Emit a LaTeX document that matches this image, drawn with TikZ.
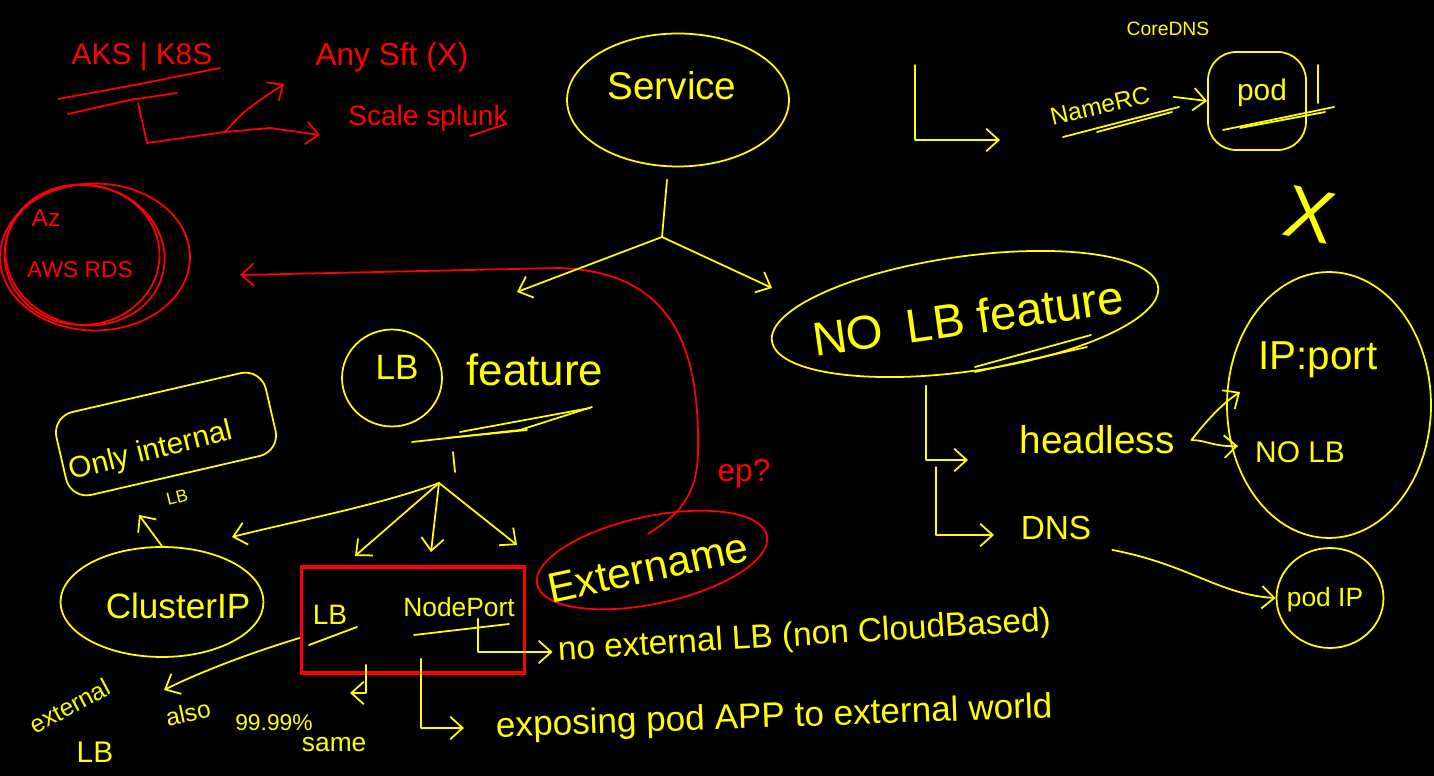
\documentclass[tikz,border=0pt]{standalone}
\usepackage{fontspec}
\setmainfont{Liberation Sans}
\usepackage{xcolor}
\usepackage{tikz}
\usetikzlibrary{shapes.geometric, arrows.meta, positioning}
\definecolor{pen}{RGB}{255,255,0}
\definecolor{redpen}{RGB}{255,0,0}
\tikzset{
    hand/.style={text=pen, inner sep=1pt},
    redhand/.style={text=redpen, inner sep=1pt},
    fs/.style={font=\fontsize{#1}{#1}\selectfont},
    blob/.style={ellipse, draw=pen, line width=1pt, inner sep=0pt},
    redblob/.style={ellipse, draw=redpen, line width=1pt, inner sep=0pt},
    stroke/.style={draw=pen, line width=1pt, line cap=round, line join=round},
    redstroke/.style={draw=redpen, line width=1pt, line cap=round, line join=round},
    arrow/.style={-{Straight Barb[length=2.5mm, width=4.5mm]}},
}

\begin{document}
\begin{tikzpicture}[x=0.02cm, y=-0.02cm]
    \fill[black] (0,0) rectangle (1434,776);
    \useasboundingbox (0,0) rectangle (1434,776);

    % Nodes (red corner)
    \node[redhand, fs=17] (aks) at (142,57) {AKS | K8S};
    \node[redhand, fs=18] (anysoft) at (392,57) {Any Sft (X)};
    \node[redhand, fs=16] (splunk) at (428,118) {Scale splunk};
    \node[redblob, minimum width=3.1cm, minimum height=2.8cm] (rds) at (82,255) {};
    \node[redhand, fs=14] (az) at (46,218) {Az};
    \node[redhand, fs=13] (awsrds) at (80,270) {AWS RDS};
    \node[redhand, fs=18] (ep) at (744,474) {ep?};

    % Nodes (service, LB side)
    \node[blob, minimum width=4.44cm, minimum height=2.66cm] (service) at (678,100) {};
    \node[hand, fs=22] (servicetxt) at (672,86) {Service};
    \node[blob, minimum width=2cm, minimum height=1.94cm] (lb) at (392,378) {};
    \node[hand, fs=20] (lbtxt) at (397,367) {LB};
    \node[hand, fs=25] (feature) at (535,370) {feature};
    \node[draw=pen, line width=1pt, rounded corners=12pt, rotate=13, minimum width=4.3cm, minimum height=1.7cm] (onlyint) at (166,434) {};
    \node[hand, fs=17, rotate=14] (onlyinttxt) at (151,452) {Only internal};
    \node[hand, fs=10, rotate=14] (lbnote) at (177,497) {LB};
    \node[blob, minimum width=4.06cm, minimum height=2.2cm] (clusterip) at (162,602) {};
    \node[hand, fs=20] (clusteriptxt) at (178,606) {ClusterIP};
    \node[draw=redpen, line width=2.2pt, minimum width=4.46cm, minimum height=2.12cm] (lbbox) at (413,620) {};
    \node[hand, fs=16] (boxlb) at (330,615) {LB};
    \node[hand, fs=15] (nodeport) at (459,607) {NodePort};
    \node[redblob, rotate=12, minimum width=4.7cm, minimum height=1.75cm] (extername) at (652,560) {};
    \node[hand, fs=24, rotate=12] (externametxt) at (648,568) {Extername};
    \node[hand, fs=19, rotate=3.5, anchor=west] (noext) at (556,652) {no external LB (non CloudBased)};
    \node[hand, fs=20, rotate=2, anchor=west] (expose) at (494,728) {exposing pod APP to external world};
    \node[hand, fs=14, rotate=28] (external) at (70,706) {external};
    \node[hand, fs=17] (extlb) at (95,752) {LB};
    \node[hand, fs=14, rotate=12] (also) at (188,713) {also};
    \node[hand, fs=13] (pct) at (274,723) {99.99\%};
    \node[hand, fs=15, below right=1pt and -0.3cm of pct] (same) {same};

    % Nodes (no LB side)
    \node[hand, fs=11] (coredns) at (1168,29) {CoreDNS};
    \node[hand, fs=14, rotate=13] (namerc) at (1100,106) {NameRC};
    \node[draw=pen, line width=1pt, rounded corners=16pt, minimum width=1.96cm, minimum height=1.96cm] (pod) at (1257,101) {};
    \node[hand, fs=17] (podtxt) at (1262,93) {pod};
    \node[hand, fs=42, rotate=-12] (cross) at (1310,215) {X};
    \node[blob, rotate=8, minimum width=7.8cm, minimum height=2.3cm] (nolb) at (965,314) {};
    \node[hand, fs=27, rotate=8] (nolbtxt) at (968,318) {NO\hspace{0.5em}LB feature};
    \node[hand, fs=22] (headless) at (1097,440) {headless};
    \node[blob, minimum width=4.08cm, minimum height=5.32cm] (headbag) at (1329,405) {};
    \node[hand, fs=23] (ipport) at (1318,360) {IP:port};
    \node[hand, fs=17] (nolbleaf) at (1300,452) {NO LB};
    \node[hand, fs=19] (dns) at (1056,528) {DNS};
    \node[blob, minimum width=2.14cm, minimum height=2cm] (podip) at (1330,598) {};
    \node[hand, fs=15] (podiptxt) at (1325,600) {pod IP};

    % Underlines and extra strokes
    \draw[redstroke] (58,99) -- (140,84) -- (220,68);
    \draw[redstroke] (68,114) -- (130,100) -- (177,93);
    \draw[redstroke] (470,136) -- (506,124);
    \draw[redstroke] (95,257) ellipse (1.9cm and 1.47cm);
    \draw[redstroke, rotate around={-12:(85,255)}] (85,255) ellipse (1.6cm and 1.4cm);
    \draw[stroke] (412,442) -- (520,430) -- (592,407);
    \draw[stroke] (460,432) -- (590,408);
    \draw[stroke] (447,438) -- (527,430);
    \draw[stroke] (309,645) -- (357,627);
    \draw[stroke] (414,635) -- (509,624);
    \draw[stroke] (1063,137) -- (1179,107);
    \draw[stroke] (1097,132) -- (1172,112);
    \draw[stroke] (1223,130) -- (1334,107);
    \draw[stroke] (1240,128) -- (1325,112);
    \draw[stroke] (1318,65) -- (1318,103);
    \draw[stroke] (975,367) -- (1091,335);
    \draw[stroke] (975,372) -- (1087,347);

    % Arrows (red)
    \coordinate (aksroot) at (138,103);
    \coordinate (aksfork) at (225,132);
    \coordinate (softtip) at (284,84);
    \coordinate (splunktip) at (320,135);
    \coordinate (extstart) at (648,534);
    \coordinate (rdstip) at (240,275);
    \draw[redstroke] (aksroot) -- (147,143) -- (aksfork);
    \draw[redstroke, arrow] (aksfork) .. controls (245,110) .. (softtip);
    \draw[redstroke, arrow] (aksfork) -- (270,128) -- (splunktip);
    \draw[redstroke, arrow] (extstart) .. controls (668,520) and (698,505) .. (698,450) .. controls (700,330) and (660,272) .. (560,268) -- (rdstip);

    % Arrows (service)
    \coordinate (svcfork) at (662,237);
    \coordinate (lbtip) at (517,292);
    \coordinate (nolbtip) at (772,288);
    \draw[stroke] ([xshift=-0.22cm, yshift=-0.25cm]service.south) -- (svcfork);
    \draw[stroke, arrow] (svcfork) -- (lbtip);
    \draw[stroke, arrow] (svcfork) -- (nolbtip);

    % Arrows (LB feature)
    \coordinate (lbtick) at (453,452);
    \coordinate (lbfork) at (439,483);
    \coordinate (cliptip) at (232,537);
    \coordinate (boxtip) at (355,556);
    \coordinate (nptip) at (431,552);
    \coordinate (exttip) at (517,545);
    \coordinate (onlytip) at (139,515);
    \coordinate (alsotip) at (164,690);
    \coordinate (pcttip) at (350,693);
    \draw[stroke] (lbtick) -- ++(2,20);
    \draw[stroke, arrow] (lbfork) .. controls (380,505) and (300,520) .. (cliptip);
    \draw[stroke, arrow] (lbfork) -- (boxtip);
    \draw[stroke, arrow] (lbfork) -- (nptip);
    \draw[stroke, arrow] (lbfork) -- (exttip);
    \draw[stroke, arrow] (clusterip.north) -- (onlytip);
    \draw[stroke, arrow] ([yshift=-0.36cm]lbbox.west) .. controls (250,653) and (200,672) .. (alsotip);
    \draw[stroke, arrow] ([xshift=-0.94cm, yshift=0.2cm]lbbox.south) |- (pcttip);
    \draw[stroke, arrow, shorten >=2pt] ([xshift=0.38cm]nodeport.south) |- (noext.west);
    \draw[stroke, arrow, shorten >=0.6cm] ([xshift=-0.76cm, yshift=-0.8cm]nodeport.south) |- (expose.west);

    % Arrows (no LB)
    \coordinate (bracketroot) at (915,65);
    \coordinate (bracketip) at (1000,140);
    \coordinate (headtip) at (968,460);
    \coordinate (dnsroot) at (936,467);
    \coordinate (dnstip) at (994,535);
    \coordinate (iptip) at (1240,392);
    \coordinate (noleaftip) at (1238,446);
    \draw[stroke, arrow] (bracketroot) |- (bracketip);
    \draw[stroke, arrow, shorten <=0.45cm] (namerc.east) -- (pod.west);
    \draw[stroke, arrow] ([xshift=-0.95cm, yshift=-0.28cm]nolb.south) |- (headtip);
    \draw[stroke, arrow] (dnsroot) |- (dnstip);
    \draw[stroke, arrow] ([xshift=0.3cm]headless.east) .. controls (1215,410) and (1228,400) .. (iptip);
    \draw[stroke, arrow] ([xshift=0.3cm]headless.east) .. controls (1205,440) and (1215,447) .. (noleaftip);
    \draw[stroke, arrow] ([xshift=0.38cm, yshift=-0.16cm]dns.south east) .. controls (1190,565) and (1220,595) .. (podip.west);

\end{tikzpicture}
\end{document}
